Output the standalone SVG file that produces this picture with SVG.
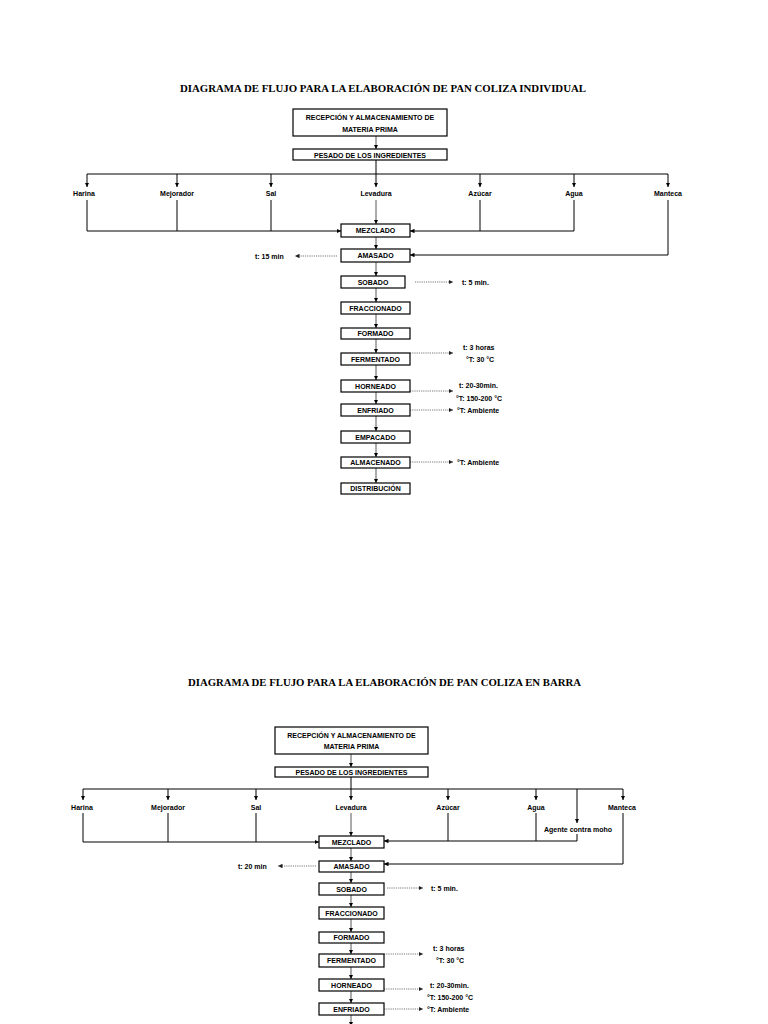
<svg xmlns="http://www.w3.org/2000/svg" width="768" height="1024" viewBox="0 0 768 1024">
<defs>
<marker id="ah" viewBox="0 0 6 6" refX="6" refY="3" markerWidth="4.5" markerHeight="4.5" markerUnits="userSpaceOnUse" orient="auto">
<path d="M0,0 L6,3 L0,6 z" fill="#000"/>
</marker>
<marker id="ahg" viewBox="0 0 6 6" refX="6" refY="3" markerWidth="4.5" markerHeight="4.5" markerUnits="userSpaceOnUse" orient="auto">
<path d="M0,0 L6,3 L0,6 z" fill="#222"/>
</marker>
<style>
.t{font-family:"Liberation Serif","Times New Roman",serif;font-weight:bold;font-size:9.6px;fill:#000;text-anchor:middle}
.b{fill:#fff;stroke:#000;stroke-width:1.2}
.bt{font-family:"Liberation Sans",Arial,sans-serif;font-weight:bold;font-size:7px;fill:#000;text-anchor:middle}
.l{font-family:"Liberation Sans",Arial,sans-serif;font-weight:bold;font-size:7px;fill:#000;text-anchor:middle}
.a{font-family:"Liberation Sans",Arial,sans-serif;font-weight:bold;font-size:7px;fill:#000}
.c{fill:none;stroke:#000;stroke-width:1}
.v{fill:none;stroke:#444;stroke-width:0.9;marker-end:url(#ah)}
.ca{fill:none;stroke:#000;stroke-width:1;marker-end:url(#ah)}
.d{fill:none;stroke:#555;stroke-width:0.8;stroke-dasharray:1.2,1;marker-end:url(#ahg)}
</style>
</defs>
<rect width="768" height="1024" fill="#fff"/>

<!-- ============ TOP DIAGRAM ============ -->
<text class="t" x="383" y="92" textLength="406" lengthAdjust="spacingAndGlyphs">DIAGRAMA DE FLUJO PARA LA ELABORACIÓN DE PAN COLIZA INDIVIDUAL</text>

<g id="connectors-top">
<path class="v" d="M376,136 V149"/>
<path class="c" d="M376,160 V174 M87,174 H668"/>
<path class="ca" d="M87,174 V187"/>
<path class="ca" d="M177,174 V187"/>
<path class="ca" d="M271,174 V187"/>
<path class="ca" d="M376,174 V187"/>
<path class="ca" d="M480,174 V187"/>
<path class="ca" d="M574,174 V187"/>
<path class="ca" d="M668,174 V187"/>
<path class="c" d="M87,200 V231 M177,200 V231 M271,200 V231"/>
<path class="ca" d="M87,231 H341"/>
<path class="v" d="M376,200 V224"/>
<path class="c" d="M480,200 V231 M574,200 V231"/>
<path class="ca" d="M574,231 H410"/>
<path class="c" d="M668,200 V255"/>
<path class="ca" d="M668,255 H410"/>
<path class="v" d="M376,237 V249"/>
<path class="v" d="M376,262 V276"/>
<path class="v" d="M376,288 V302"/>
<path class="v" d="M376,314 V328"/>
<path class="v" d="M376,339 V353"/>
<path class="v" d="M376,365 V380"/>
<path class="v" d="M376,392 V404"/>
<path class="v" d="M376,416 V431"/>
<path class="v" d="M376,443 V457"/>
<path class="v" d="M376,468 V483"/>
<path class="d" d="M337,256 H295"/>
<path class="d" d="M415,282 H453"/>
<path class="d" d="M410,353 H453"/>
<path class="d" d="M410,391 H453"/>
<path class="d" d="M410,410 H453"/>
<path class="d" d="M410,462 H453"/>
</g>

<g id="t-recepcion"><rect class="b" x="293" y="109" width="154" height="27"/><text class="bt" x="370" y="119.5">RECEPCIÓN Y ALMACENAMIENTO DE</text><text class="bt" x="370" y="131.5">MATERIA PRIMA</text></g>
<g id="t-pesado"><rect class="b" x="293" y="149" width="154" height="11"/><text class="bt" x="370" y="157.5">PESADO DE LOS INGREDIENTES</text></g>
<g id="t-harina"><text class="l" x="84" y="196">Harina</text></g>
<g id="t-mejorador"><text class="l" x="177" y="196">Mejorador</text></g>
<g id="t-sal"><text class="l" x="271" y="196">Sal</text></g>
<g id="t-levadura"><text class="l" x="376" y="196">Levadura</text></g>
<g id="t-azucar"><text class="l" x="480" y="196">Azúcar</text></g>
<g id="t-agua"><text class="l" x="574" y="196">Agua</text></g>
<g id="t-manteca"><text class="l" x="668" y="196">Manteca</text></g>
<g id="t-mezclado"><rect class="b" x="341" y="224" width="69" height="13"/><text class="bt" x="375.5" y="233.2">MEZCLADO</text></g>
<g id="t-amasado"><rect class="b" x="341" y="249" width="69" height="13"/><text class="bt" x="375.5" y="258.2">AMASADO</text></g>
<g id="t-t15"><text class="a" x="255" y="258.5">t: 15 min</text></g>
<g id="t-sobado"><rect class="b" x="341" y="276" width="64" height="12"/><text class="bt" x="373" y="284.6">SOBADO</text></g>
<g id="t-t5"><text class="a" x="462" y="284.5">t: 5 min.</text></g>
<g id="t-fraccionado"><rect class="b" x="341" y="302" width="69" height="12"/><text class="bt" x="375.5" y="310.6">FRACCIONADO</text></g>
<g id="t-formado"><rect class="b" x="341" y="328" width="69" height="11"/><text class="bt" x="375.5" y="336.1">FORMADO</text></g>
<g id="t-fermentado"><rect class="b" x="341" y="353" width="69" height="12"/><text class="bt" x="375.5" y="361.6">FERMENTADO</text></g>
<g id="t-ferm-note"><text class="a" x="463" y="349.5">t: 3 horas</text><text class="a" x="466" y="361.5">°T: 30 °C</text></g>
<g id="t-horneado"><rect class="b" x="341" y="380" width="69" height="12"/><text class="bt" x="375.5" y="388.6">HORNEADO</text></g>
<g id="t-horn-note"><text class="a" x="459" y="388">t: 20-30min.</text><text class="a" x="456" y="401">°T: 150-200 °C</text></g>
<g id="t-enfriado"><rect class="b" x="341" y="404" width="69" height="12"/><text class="bt" x="375.5" y="412.6">ENFRIADO</text></g>
<g id="t-enf-note"><text class="a" x="457" y="412.5">°T: Ambiente</text></g>
<g id="t-empacado"><rect class="b" x="341" y="431" width="69" height="12"/><text class="bt" x="375.5" y="439.6">EMPACADO</text></g>
<g id="t-almacenado"><rect class="b" x="341" y="457" width="69" height="11"/><text class="bt" x="375.5" y="465.1">ALMACENADO</text></g>
<g id="t-alm-note"><text class="a" x="457" y="464.5">°T: Ambiente</text></g>
<g id="t-distribucion"><rect class="b" x="341" y="483" width="69" height="11"/><text class="bt" x="375.5" y="491.1">DISTRIBUCIÓN</text></g>

<!-- ============ BOTTOM DIAGRAM ============ -->
<text class="t" x="384.5" y="686" textLength="393" lengthAdjust="spacingAndGlyphs">DIAGRAMA DE FLUJO PARA LA ELABORACIÓN DE PAN COLIZA EN BARRA</text>

<g id="connectors-bottom">
<path class="v" d="M351,754 V767"/>
<path class="c" d="M351,777 V789 M83,789 H623"/>
<path class="ca" d="M83,789 V800"/>
<path class="ca" d="M168,789 V800"/>
<path class="ca" d="M256,789 V800"/>
<path class="ca" d="M351,789 V800"/>
<path class="ca" d="M448,789 V800"/>
<path class="ca" d="M536,789 V800"/>
<path class="ca" d="M577,789 V823"/>
<path class="ca" d="M623,789 V800"/>
<path class="c" d="M83,813 V842 M168,813 V842 M256,813 V842"/>
<path class="ca" d="M83,842 H319"/>
<path class="v" d="M351,813 V836"/>
<path class="c" d="M448,813 V841 M536,813 V841 M577,834 V841"/>
<path class="ca" d="M577,841 H384"/>
<path class="c" d="M623,813 V864"/>
<path class="ca" d="M623,864 H384"/>
<path class="v" d="M351,848 V861"/>
<path class="v" d="M351,872 V883"/>
<path class="v" d="M351,895 V907"/>
<path class="v" d="M351,919 V932"/>
<path class="v" d="M351,943 V954"/>
<path class="v" d="M351,967 V979"/>
<path class="v" d="M351,991 V1003"/>
<path class="v" d="M351,1015 V1026"/>
<path class="d" d="M316,866 H278"/>
<path class="d" d="M387,888 H423"/>
<path class="d" d="M384,954 H423"/>
<path class="d" d="M384,989 H423"/>
<path class="d" d="M384,1009 H423"/>
</g>

<g id="b-recepcion"><rect class="b" x="275" y="727" width="153" height="27"/><text class="bt" x="351.5" y="737.5">RECEPCIÓN Y ALMACENAMIENTO DE</text><text class="bt" x="351.5" y="748.5">MATERIA PRIMA</text></g>
<g id="b-pesado"><rect class="b" x="275" y="767" width="153" height="10"/><text class="bt" x="351.5" y="774.6">PESADO DE LOS INGREDIENTES</text></g>
<g id="b-harina"><text class="l" x="82" y="809.5">Harina</text></g>
<g id="b-mejorador"><text class="l" x="168" y="809.5">Mejorador</text></g>
<g id="b-sal"><text class="l" x="256" y="809.5">Sal</text></g>
<g id="b-levadura"><text class="l" x="351" y="809.5">Levadura</text></g>
<g id="b-azucar"><text class="l" x="448" y="809.5">Azúcar</text></g>
<g id="b-agua"><text class="l" x="536" y="809.5">Agua</text></g>
<g id="b-agente"><text class="l" x="578" y="831.5">Agente contra moho</text></g>
<g id="b-manteca"><text class="l" x="622" y="809.5">Manteca</text></g>
<g id="b-mezclado"><rect class="b" x="319" y="836" width="65" height="12"/><text class="bt" x="351.5" y="844.6">MEZCLADO</text></g>
<g id="b-amasado"><rect class="b" x="319" y="861" width="65" height="11"/><text class="bt" x="351.5" y="869.1">AMASADO</text></g>
<g id="b-t20"><text class="a" x="238" y="868.5">t: 20 min</text></g>
<g id="b-sobado"><rect class="b" x="319" y="883" width="65" height="12"/><text class="bt" x="351.5" y="891.6">SOBADO</text></g>
<g id="b-t5"><text class="a" x="431" y="891">t: 5 min.</text></g>
<g id="b-fraccionado"><rect class="b" x="319" y="907" width="65" height="12"/><text class="bt" x="351.5" y="915.6">FRACCIONADO</text></g>
<g id="b-formado"><rect class="b" x="319" y="932" width="65" height="11"/><text class="bt" x="351.5" y="940.1">FORMADO</text></g>
<g id="b-fermentado"><rect class="b" x="319" y="954" width="65" height="13"/><text class="bt" x="351.5" y="963.2">FERMENTADO</text></g>
<g id="b-ferm-note"><text class="a" x="433" y="950.5">t: 3 horas</text><text class="a" x="436" y="962.5">°T: 30 °C</text></g>
<g id="b-horneado"><rect class="b" x="319" y="979" width="65" height="12"/><text class="bt" x="351.5" y="987.6">HORNEADO</text></g>
<g id="b-horn-note"><text class="a" x="430" y="987.5">t: 20-30min.</text><text class="a" x="427" y="999.5">°T: 150-200 °C</text></g>
<g id="b-enfriado"><rect class="b" x="319" y="1003" width="65" height="12"/><text class="bt" x="351.5" y="1011.6">ENFRIADO</text></g>
<g id="b-enf-note"><text class="a" x="427" y="1011.5">°T: Ambiente</text></g>
</svg>
